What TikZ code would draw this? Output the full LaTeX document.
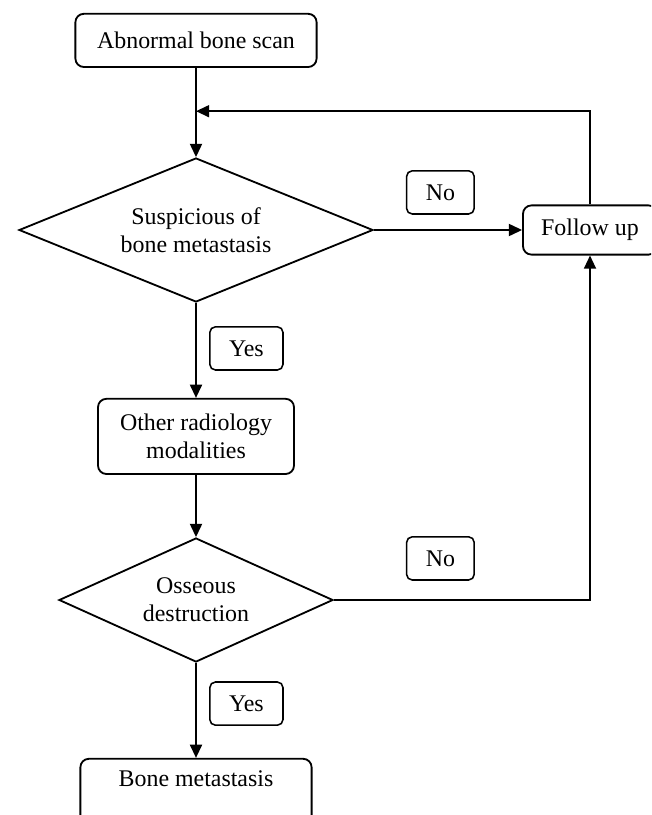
\documentclass[tikz,border=0pt]{standalone}
\usepackage{fontspec}
\setmainfont{Liberation Serif}
\usetikzlibrary{shapes.geometric,arrows.meta}

\begin{document}
\begin{tikzpicture}[
		font=\fontsize{17}{20}\selectfont,
		box/.style={draw,rounded corners=6pt,line width=1.3pt,align=center,inner sep=0pt},
		decision/.style={draw,diamond,line width=1.3pt,align=center,inner sep=0pt},
		answer/.style={draw,rounded corners=4pt,line width=1.1pt,inner xsep=0.48cm,inner ysep=0pt,minimum height=1.08cm},
		flow/.style={line width=1.3pt,-{Triangle[length=3.3mm,width=3mm]}}]
		\useasboundingbox (0,0) rectangle (16.275,-20.375);
		\clip (0,0) rectangle (16.275,-20.375);

		% Steps
		\node[box,minimum width=6.03cm,minimum height=1.33cm] (scan) at (4.9,-1.01) {Abnormal bone scan};
		\node[decision,aspect=2.46,minimum width=8.85cm,minimum height=3.6cm] (susp) at (4.9,-5.75) {Suspicious of\\bone metastasis};
		\node[box,minimum width=3.35cm,minimum height=1.23cm] (follow) at (14.75,-5.75) {Follow up};
		\node[box,minimum width=4.9cm,minimum height=1.88cm] (other) at (4.9,-10.91) {Other radiology\\modalities};
		\node[decision,aspect=2.21,minimum width=6.85cm,minimum height=3.1cm] (osseous) at (4.9,-15.0) {Osseous\\destruction};
		\node[box,minimum width=5.78cm,minimum height=1.88cm] (meta) at (4.9,-19.91) {Bone metastasis\\\strut};
		\coordinate (loop) at (4.9,-2.78);

		% Answers
		\node[answer] (no1) at (11.01,-4.81) {No};
		\node[answer] (yes1) at (6.16,-8.71) {Yes};
		\node[answer] (no2) at (11.01,-13.96) {No};
		\node[answer] (yes2) at (6.16,-17.59) {Yes};

		% Connectors
		\draw[flow] (scan) -- (susp);
		\draw[flow] (follow.north) |- (loop);
		\draw[flow] (susp) -- (follow);
		\draw[flow] (susp) -- (other);
		\draw[flow] (other) -- (osseous);
		\draw[flow] (osseous.east) -| (follow.south);
		\draw[flow] (osseous) -- (meta);
	\end{tikzpicture}
\end{document}
